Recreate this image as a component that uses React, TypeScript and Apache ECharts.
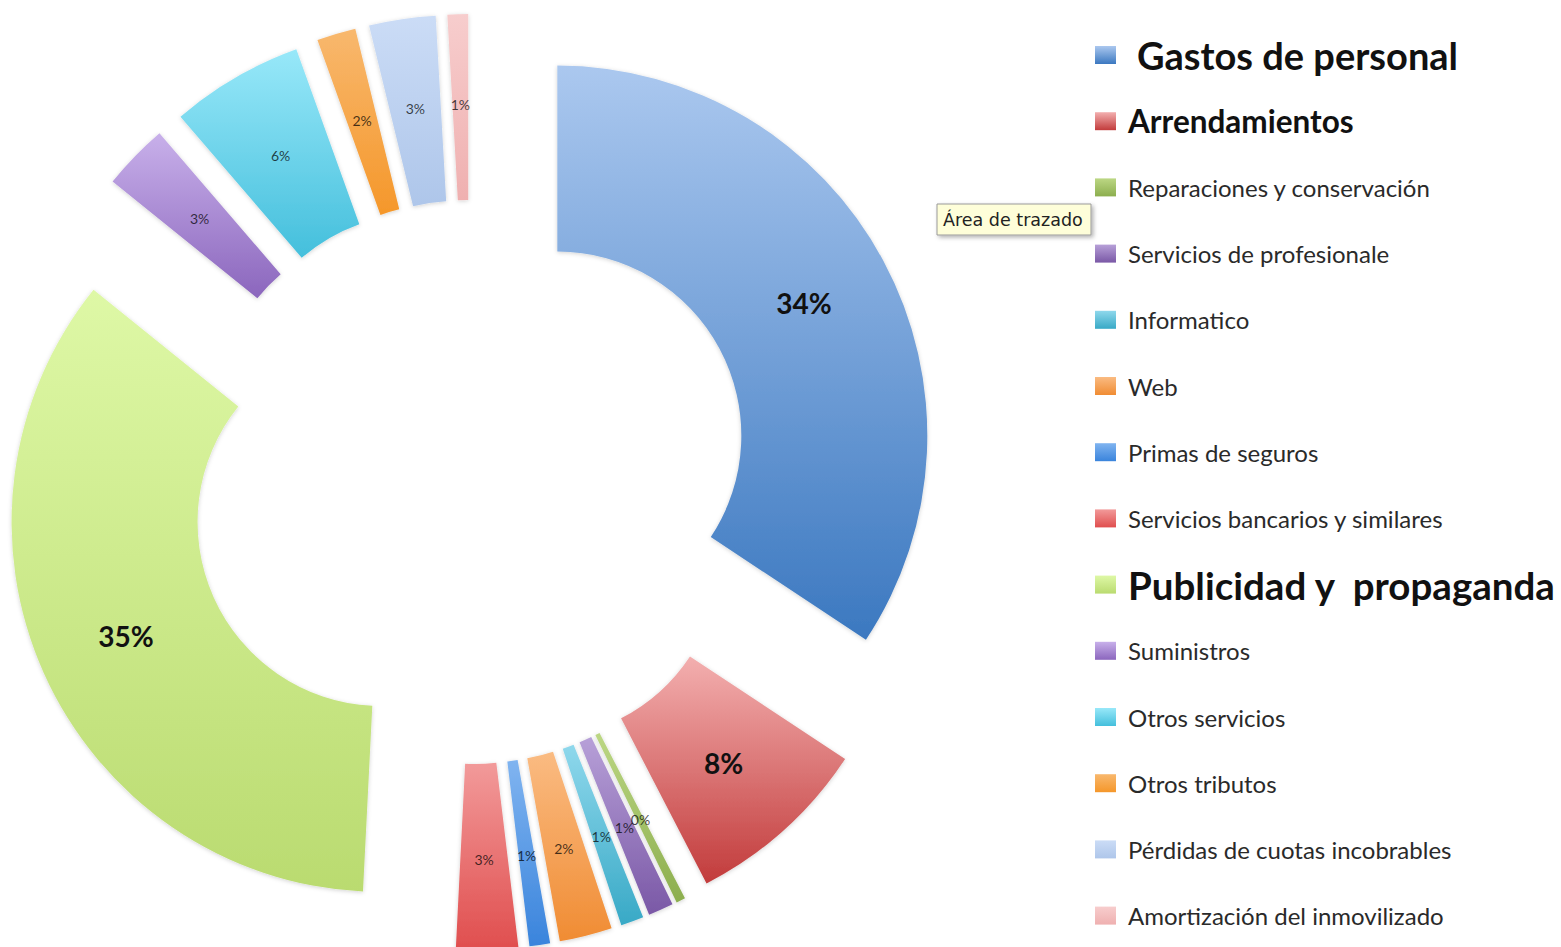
import React, { useEffect, useRef } from "react";
import * as echarts from "echarts";

const categories = [
  "Gastos de personal",
  "Arrendamientos",
  "Reparaciones y conservación",
  "Servicios de profesionale",
  "Informatico",
  "Web",
  "Primas de seguros",
  "Servicios bancarios y similares",
  "Publicidad y  propaganda",
  "Suministros",
  "Otros servicios",
  "Otros tributos",
  "Pérdidas de cuotas incobrables",
  "Amortización del inmovilizado",
];

const shares = [34.3, 8.1, 0.4, 1.1, 1.0, 2.3, 0.9, 2.7, 35.0, 2.9, 5.8, 1.7, 2.9, 0.9];

const lightColors = [
  "#abc8ef", "#f3afaf", "#bcd784", "#b7a0d8", "#8fd8ec", "#fabb82", "#80b4f0",
  "#f29a9a", "#def8a6", "#c8b0ea", "#98e8f9", "#f8b86e", "#cbdcf6", "#f7cdcd",
];
const darkColors = [
  "#3b78c0", "#c23b3b", "#8cae4e", "#7a58a6", "#38a9c6", "#f08c33", "#3a84dc",
  "#e04e4e", "#badb70", "#8b66bd", "#44bfdc", "#f5972a", "#aec6ea", "#efb0b0",
];

const boldItems = ["Gastos de personal", "Arrendamientos", "Publicidad y  propaganda"];
const legendFontSizes = [38, 31.5, 24, 24, 24, 24, 24, 24, 38.5, 24, 24, 24, 24, 24];

export default function App() {
  const ref = useRef<HTMLDivElement>(null);

  useEffect(() => {
    if (!ref.current) return;
    const chart = echarts.init(ref.current, null, { renderer: "svg" });

    const data = categories.map((name, i) => {
      const big = boldItems.includes(name);
      return {
        name,
        value: shares[i],
        selected: true,
        itemStyle: {
          color: new echarts.graphic.LinearGradient(0, 0, 0, 1, [
            { offset: 0, color: lightColors[i] },
            { offset: 1, color: darkColors[i] },
          ]),
        },
        label: big
          ? { fontSize: 28, fontWeight: "bold", color: "#111111" }
          : { fontSize: 14, fontWeight: "normal", color: "rgba(0,0,0,0.72)" },
      };
    });

    const legendData = categories.map((name, i) => {
      const bold = boldItems.includes(name);
      return {
        name,
        icon: "rect",
        textStyle: {
          fontSize: legendFontSizes[i],
          fontWeight: bold ? "bold" : "normal",
          color: bold ? "#111111" : "#2a2a2a",
          lineHeight: 40,
          padding: [0, 0, 0, i === 0 ? 16 : 7],
        },
      };
    });

    chart.setOption({
      animation: false,
      backgroundColor: "#ffffff",
      textStyle: { fontFamily: "Lato, 'Open Sans', sans-serif" },
      legend: {
        orient: "vertical",
        left: 1095,
        top: 35,
        padding: 0,
        itemWidth: 21,
        itemHeight: 18,
        itemGap: 26.2,
        selectedMode: false,
        data: legendData,
        textStyle: { fontFamily: "Lato, 'Open Sans', sans-serif" },
      },
      series: [
        {
          type: "pie",
          center: [471, 482],
          radius: [184, 370],
          startAngle: 90,
          clockwise: true,
          selectedMode: "multiple",
          selectedOffset: 98,
          avoidLabelOverlap: false,
          labelLayout: { hideOverlap: false },
          emphasis: { disabled: true, scale: false },
          itemStyle: {
            borderWidth: 0,
            shadowBlur: 4,
            shadowColor: "rgba(0,0,0,0.18)",
            shadowOffsetY: 1,
          },
          label: {
            show: true,
            position: "inside",
            fontFamily: "Lato, 'Open Sans', sans-serif",
            formatter: (p: any) => Math.round(p.percent) + "%",
          },
          labelLine: { show: false },
          data,
        },
      ],
      graphic: [
        {
          type: "group",
          children: [
            {
              type: "rect",
              shape: { x: 937, y: 204, width: 154, height: 31 },
              style: {
                fill: "#fefed9",
                stroke: "#9a9a9a",
                lineWidth: 1,
                shadowBlur: 4,
                shadowColor: "rgba(0,0,0,0.3)",
                shadowOffsetX: 2,
                shadowOffsetY: 2,
              },
            },
            {
              type: "text",
              x: 943,
              y: 220,
              style: {
                text: "Área de trazado",
                fontSize: 17.5,
                fontFamily: "'DejaVu Sans', sans-serif",
                fill: "#222222",
                verticalAlign: "middle",
              },
            },
          ],
        },
      ],
    });

    return () => chart.dispose();
  }, []);

  return (
    <div
      ref={ref}
      style={{ position: "absolute", left: 0, top: 0, width: 1561, height: 947 }}
    />
  );
}
